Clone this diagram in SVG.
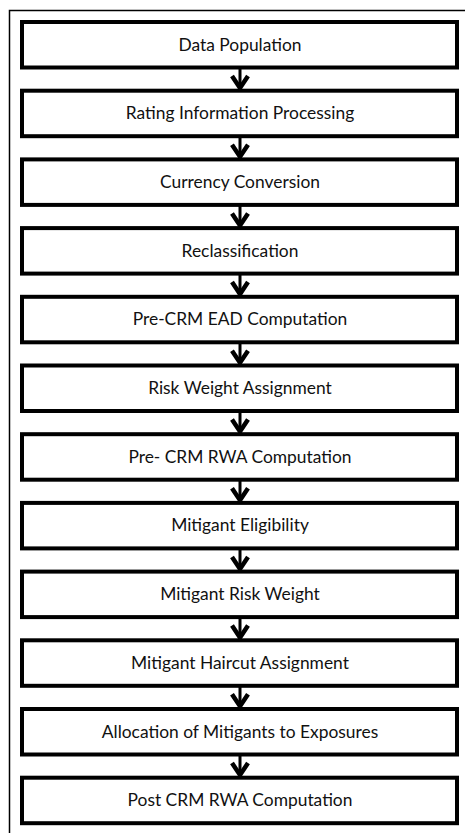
<svg xmlns="http://www.w3.org/2000/svg" width="465" height="833" viewBox="0 0 465 833">
<defs>
<style>
.box{fill:#fff;stroke:#000;stroke-width:4}
.t{font-family:Lato,"Liberation Sans",sans-serif;font-size:17.4px;fill:#111;text-anchor:middle}
.c{stroke:#000;stroke-width:3;fill:none}
.h{stroke:#000;stroke-width:4.5;fill:none;stroke-linecap:butt;stroke-linejoin:miter}
</style>
</defs>
<rect x="0" y="0" width="465" height="833" fill="#fff"/>
<rect x="9.5" y="10.5" width="470" height="840" fill="none" stroke="#000" stroke-width="1.5"/>
<g id="connectors">
<path class="c" d="M240 68V88M240 136.7V156.7M240 205.4V225.4M240 274.1V294.1M240 342.8V362.8M240 411.5V431.5M240 480.2V500.2M240 548.9V568.9M240 617.6V637.6M240 686.3V706.3M240 755V775"/>
<path class="h" d="M232 76L240 88L248 76M232 144.7L240 156.7L248 144.7M232 213.4L240 225.4L248 213.4M232 282.1L240 294.1L248 282.1M232 350.8L240 362.8L248 350.8M232 419.5L240 431.5L248 419.5M232 488.2L240 500.2L248 488.2M232 556.9L240 568.9L248 556.9M232 625.6L240 637.6L248 625.6M232 694.3L240 706.3L248 694.3M232 763L240 775L248 763"/>
</g>
<g id="n1"><rect class="box" x="22" y="22" width="435" height="45.5"/><text class="t" x="240" y="50.5">Data Population</text></g>
<g id="n2"><rect class="box" x="22" y="90.7" width="435" height="45.5"/><text class="t" x="240" y="119.2">Rating Information Processing</text></g>
<g id="n3"><rect class="box" x="22" y="159.4" width="435" height="45.5"/><text class="t" x="240" y="187.9">Currency Conversion</text></g>
<g id="n4"><rect class="box" x="22" y="228.1" width="435" height="45.5"/><text class="t" x="240" y="256.6">Reclassification</text></g>
<g id="n5"><rect class="box" x="22" y="296.8" width="435" height="45.5"/><text class="t" x="240" y="325.3">Pre-CRM EAD Computation</text></g>
<g id="n6"><rect class="box" x="22" y="365.5" width="435" height="45.5"/><text class="t" x="240" y="394">Risk Weight Assignment</text></g>
<g id="n7"><rect class="box" x="22" y="434.2" width="435" height="45.5"/><text class="t" x="240" y="462.7">Pre- CRM RWA Computation</text></g>
<g id="n8"><rect class="box" x="22" y="502.9" width="435" height="45.5"/><text class="t" x="240" y="531.4">Mitigant Eligibility</text></g>
<g id="n9"><rect class="box" x="22" y="571.6" width="435" height="45.5"/><text class="t" x="240" y="600.1">Mitigant Risk Weight</text></g>
<g id="n10"><rect class="box" x="22" y="640.3" width="435" height="45.5"/><text class="t" x="240" y="668.8">Mitigant Haircut Assignment</text></g>
<g id="n11"><rect class="box" x="22" y="709" width="435" height="45.5"/><text class="t" x="240" y="737.5">Allocation of Mitigants to Exposures</text></g>
<g id="n12"><rect class="box" x="22" y="777.7" width="435" height="45.5"/><text class="t" x="240" y="806.2">Post CRM RWA Computation</text></g>
</svg>
